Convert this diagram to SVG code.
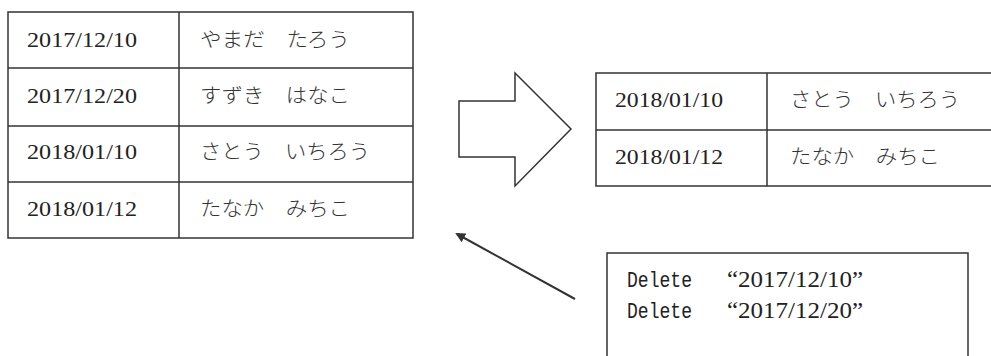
<svg xmlns="http://www.w3.org/2000/svg" width="991" height="356" viewBox="0 0 991 356">
<style>
.box{fill:none;stroke:#333;stroke-width:1.5}
.num{font-family:"Liberation Serif",serif;font-size:21px;fill:#222}
.big{font-size:24px}
.jp{font-family:"Noto Sans CJK JP",sans-serif;font-size:20px;font-weight:300;fill:#333}
.mono{font-family:"Liberation Mono",monospace;font-size:22px;fill:#222}
.conn{fill:none;stroke:#333;stroke-width:2}
</style>
<defs>
<marker id="ah" markerWidth="10" markerHeight="10" refX="8" refY="5" orient="auto" markerUnits="userSpaceOnUse">
<path d="M0,0 L10,5 L0,10 z" fill="#333"/>
</marker>
</defs>
<rect width="991" height="356" fill="#fff"/>
<g id="table-before">
<rect class="box" x="8" y="12" width="405" height="226"/>
<line class="box" x1="8" y1="68" x2="413" y2="68"/>
<line class="box" x1="8" y1="126" x2="413" y2="126"/>
<line class="box" x1="8" y1="182" x2="413" y2="182"/>
<line class="box" x1="179" y1="12" x2="179" y2="238"/>
<text class="num" x="27" y="47" textLength="110" lengthAdjust="spacingAndGlyphs">2017/12/10</text>
<text class="num" x="27" y="103" textLength="110" lengthAdjust="spacingAndGlyphs">2017/12/20</text>
<text class="num" x="27" y="159" textLength="110" lengthAdjust="spacingAndGlyphs">2018/01/10</text>
<text class="num" x="27" y="216" textLength="110" lengthAdjust="spacingAndGlyphs">2018/01/12</text>
<text class="jp" x="200" y="47" textLength="150" lengthAdjust="spacingAndGlyphs">やまだ　たろう</text>
<text class="jp" x="200" y="103" textLength="150" lengthAdjust="spacingAndGlyphs">すずき　はなこ</text>
<text class="jp" x="200" y="159" textLength="170" lengthAdjust="spacingAndGlyphs">さとう　いちろう</text>
<text class="jp" x="200" y="216" textLength="150" lengthAdjust="spacingAndGlyphs">たなか　みちこ</text>
</g>
<g id="block-arrow">
<polygon class="box" points="459,101 515,101 515,73 571,129 515,186 515,157 459,157"/>
</g>
<g id="table-after">
<rect class="box" x="596" y="73" width="404" height="113"/>
<line class="box" x1="596" y1="130" x2="1000" y2="130"/>
<line class="box" x1="767" y1="73" x2="767" y2="186"/>
<text class="num" x="615" y="107" textLength="108" lengthAdjust="spacingAndGlyphs">2018/01/10</text>
<text class="num" x="615" y="164" textLength="108" lengthAdjust="spacingAndGlyphs">2018/01/12</text>
<text class="jp" x="790" y="107" textLength="170" lengthAdjust="spacingAndGlyphs">さとう　いちろう</text>
<text class="jp" x="790" y="164" textLength="150" lengthAdjust="spacingAndGlyphs">たなか　みちこ</text>
</g>
<g id="delete-box">
<rect class="box" x="607" y="253" width="361" height="120"/>
<text class="mono" x="627" y="287" textLength="65" lengthAdjust="spacingAndGlyphs">Delete</text>
<text class="mono" x="627" y="318" textLength="65" lengthAdjust="spacingAndGlyphs">Delete</text>
<text class="num big" x="727" y="287" textLength="136" lengthAdjust="spacingAndGlyphs">“2017/12/10”</text>
<text class="num big" x="727" y="318" textLength="136" lengthAdjust="spacingAndGlyphs">“2017/12/20”</text>
</g>
<g id="connectors">
<line class="conn" x1="575" y1="299" x2="457" y2="234" marker-end="url(#ah)"/>
</g>
</svg>
